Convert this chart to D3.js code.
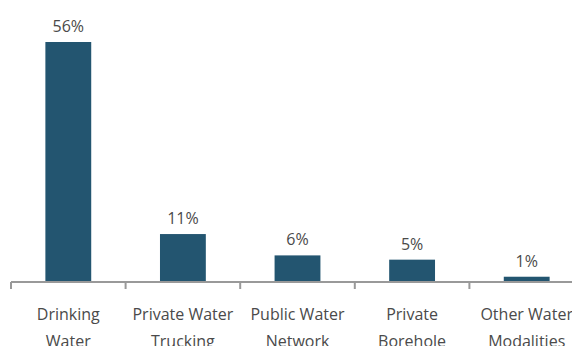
<!DOCTYPE html>
<html>
<head>
<meta charset="utf-8">
<script src="https://cdn.jsdelivr.net/npm/d3@7"></script>
<style>
  body { margin: 0; background: #fff; }
  text { font-family: "Open Sans", Roboto, sans-serif; fill: #4a4a4a; }
</style>
</head>
<body>
<div id="chart"></div>
<script>
// data
var categories = [["Drinking", "Water"], ["Private Water", "Trucking"], ["Public Water", "Network"], ["Private", "Borehole"], ["Other Water", "Modalities"]];
var values = [56, 11, 6, 5, 1];
var valueLabels = ["56%", "11%", "6%", "5%", "1%"];

var width = 572, height = 346;
var baseY = 281;

var svg = d3.select("#chart").append("svg")
    .attr("width", width)
    .attr("height", height);

var x = d3.scaleBand()
    .domain(d3.range(categories.length))
    .range([11, 584])
    .padding(0);

var y = d3.scaleLinear()
    .domain([0, 56])
    .range([baseY, 42]);

var barW = x.bandwidth() * 0.4;

svg.selectAll(".bar")
    .data(values)
  .enter().append("rect")
    .attr("class", "bar")
    .attr("x", function(d, i) { return x(i) + x.bandwidth() / 2 - barW / 2; })
    .attr("width", barW)
    .attr("y", function(d) { return y(d); })
    .attr("height", function(d) { return baseY - y(d); })
    .attr("fill", "#235570");

svg.selectAll(".val")
    .data(values)
  .enter().append("text")
    .attr("class", "val")
    .attr("x", function(d, i) { return x(i) + x.bandwidth() / 2; })
    .attr("y", function(d) { return y(d) - 10; })
    .attr("text-anchor", "middle")
    .style("font-size", "16px")
    .text(function(d, i) { return valueLabels[i]; });

// x axis
var axis = svg.append("g");
axis.append("line")
    .attr("x1", 11).attr("x2", width)
    .attr("y1", 282).attr("y2", 282)
    .attr("stroke", "#999").attr("stroke-width", 2);

axis.selectAll(".tick")
    .data(d3.range(categories.length + 1))
  .enter().append("line")
    .attr("class", "tick")
    .attr("x1", function(i) { return 11 + i * x.step(); })
    .attr("x2", function(i) { return 11 + i * x.step(); })
    .attr("y1", 282).attr("y2", 289)
    .attr("stroke", "#999").attr("stroke-width", 2);

var lab = axis.selectAll(".lab")
    .data(categories)
  .enter().append("text")
    .attr("class", "lab")
    .attr("x", function(d, i) { return x(i) + x.bandwidth() / 2; })
    .attr("y", 320)
    .attr("text-anchor", "middle")
    .style("font-size", "16px");

lab.selectAll("tspan")
    .data(function(d) { return d; })
  .enter().append("tspan")
    .attr("x", function() { return d3.select(this.parentNode).attr("x"); })
    .attr("dy", function(d, j) { return j === 0 ? 0 : 27; })
    .text(function(d) { return d; });
</script>
</body>
</html>
